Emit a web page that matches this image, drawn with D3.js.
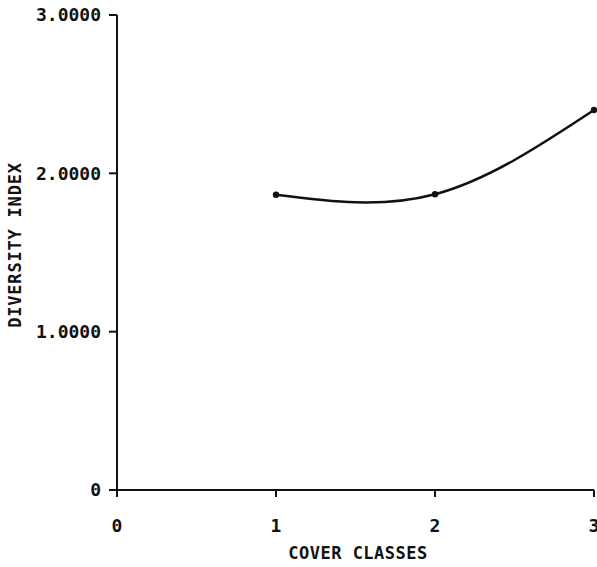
<!DOCTYPE html>
<html>
<head>
<meta charset="utf-8">
<script src="https://cdn.jsdelivr.net/npm/d3@7"></script>
<style>
  body { margin: 0; background: #fff; }
  text { font-family: "DejaVu Sans Mono", monospace; font-weight: bold; fill: #111; }
</style>
</head>
<body>
<svg width="597" height="567"></svg>
<script>
// cover class vs diversity index
var coverClasses = [1, 2, 3];
var diversity = [1.865, 1.868, 2.40];
var xTicks = [0, 1, 2, 3];
var yTicks = [0, 1, 2, 3];
var yTickLabels = ["0", "1.0000", "2.0000", "3.0000"];

var svg = d3.select("svg");

var x = d3.scaleLinear().domain([0, 3]).range([117, 594]);
var y = d3.scaleLinear().domain([0, 3]).range([490, 15]);

var ink = "#111";

// axis lines
svg.append("line")
    .attr("x1", x(0)).attr("x2", x(0))
    .attr("y1", y(3)).attr("y2", y(0) + 7)
    .attr("stroke", ink).attr("stroke-width", 2);
svg.append("line")
    .attr("x1", x(0)).attr("x2", x(3))
    .attr("y1", y(0)).attr("y2", y(0))
    .attr("stroke", ink).attr("stroke-width", 2);

// y ticks
svg.selectAll(".ytick")
  .data(yTicks)
  .enter().append("line")
    .attr("class", "ytick")
    .attr("x1", x(0) - 8).attr("x2", x(0))
    .attr("y1", function(d) { return y(d); })
    .attr("y2", function(d) { return y(d); })
    .attr("stroke", ink).attr("stroke-width", 2);

svg.selectAll(".ylab")
  .data(yTicks)
  .enter().append("text")
    .attr("class", "ylab")
    .attr("x", x(0) - 16)
    .attr("y", function(d) { return y(d); })
    .attr("dy", "0.36em")
    .attr("text-anchor", "end")
    .style("font-size", "18px")
    .text(function(d, i) { return yTickLabels[i]; });

// x ticks
svg.selectAll(".xtick")
  .data(xTicks.slice(1))
  .enter().append("line")
    .attr("class", "xtick")
    .attr("x1", function(d) { return x(d); })
    .attr("x2", function(d) { return x(d); })
    .attr("y1", y(0)).attr("y2", y(0) + 7)
    .attr("stroke", ink).attr("stroke-width", 2);

svg.selectAll(".xlab")
  .data(xTicks)
  .enter().append("text")
    .attr("class", "xlab")
    .attr("x", function(d) { return x(d); })
    .attr("y", 532)
    .attr("text-anchor", "middle")
    .style("font-size", "18px")
    .text(function(d) { return d; });

// axis titles
svg.append("text")
    .attr("x", 358).attr("y", 559)
    .attr("text-anchor", "middle")
    .style("font-size", "17px")
    .style("letter-spacing", "0.5px")
    .text("COVER CLASSES");

svg.append("text")
    .attr("transform", "translate(21,245) rotate(-90)")
    .attr("text-anchor", "middle")
    .style("font-size", "17px")
    .style("letter-spacing", "0.8px")
    .text("DIVERSITY INDEX");

// curve + points
var pts = coverClasses.map(function(c, i) { return [c, diversity[i]]; });

var line = d3.line()
    .x(function(d) { return x(d[0]); })
    .y(function(d) { return y(d[1]); })
    .curve(d3.curveNatural);

svg.append("path")
    .datum(pts)
    .attr("d", line)
    .attr("fill", "none")
    .attr("stroke", ink)
    .attr("stroke-width", 2.5);

svg.selectAll(".pt")
  .data(pts)
  .enter().append("circle")
    .attr("class", "pt")
    .attr("cx", function(d) { return x(d[0]); })
    .attr("cy", function(d) { return y(d[1]); })
    .attr("r", 3.2)
    .attr("fill", ink);
</script>
</body>
</html>
